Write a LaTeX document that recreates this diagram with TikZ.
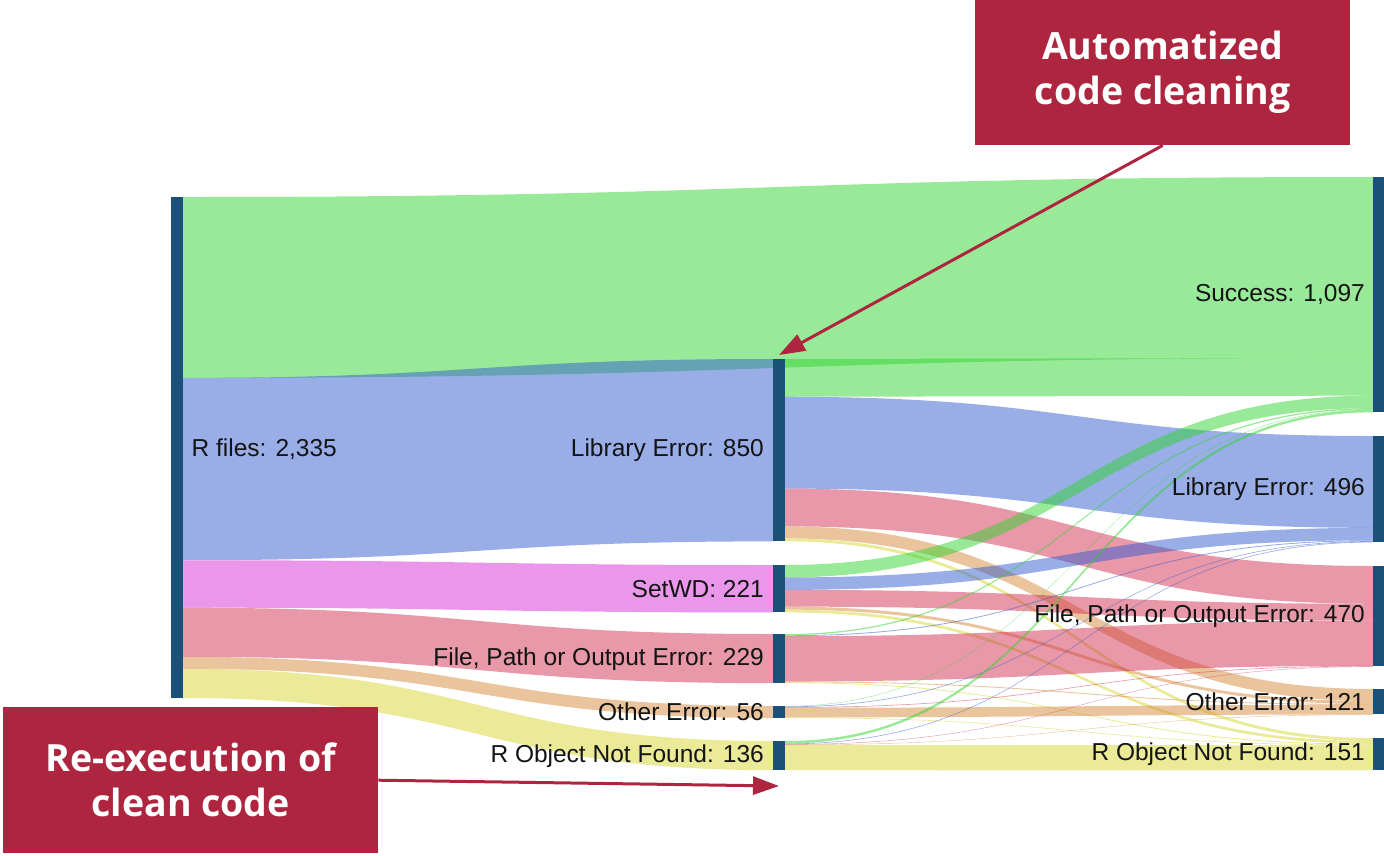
\documentclass[tikz,border=0pt]{standalone}
\usepackage{fontspec}
\setmainfont{Liberation Sans}
\newfontfamily\cof{Open Sans}
\usetikzlibrary{arrows.meta}
\definecolor{cgreen}{RGB}{49,213,49}
\definecolor{cblue}{RGB}{51,91,207}
\definecolor{cpink}{RGB}{213,45,213}
\definecolor{cred}{RGB}{209,49,81}
\definecolor{corange}{RGB}{213,137,57}
\definecolor{cyellow}{RGB}{213,213,49}
\definecolor{nodeblue}{RGB}{27,80,121}
\definecolor{crim}{RGB}{174,37,64}
\def\sc{0.214561}
\newcommand\lnk[8]{%
  \pgfmathsetmacro\lkya{#3+#4*\sc}%
  \pgfmathsetmacro\lkyb{#6+#7*\sc}%
  \pgfmathsetmacro\lktk{#8*\sc}%
  \pgfmathsetmacro\lkxm{(#2+#5)/2}%
  \fill[#1,fill opacity=0.5] (#2,\lkya) .. controls (\lkxm,\lkya) and (\lkxm,\lkyb) .. (#5,\lkyb)
    -- (#5,\lkyb+\lktk) .. controls (\lkxm,\lkyb+\lktk) and (\lkxm,\lkya+\lktk) .. (#2,\lkya+\lktk) -- cycle;
}
\tikzset{
  bar/.style={fill=nodeblue, draw=none, inner sep=0pt, minimum width=12pt, anchor=north west},
  lbl/.style={inner sep=0pt, text=black!92, font=\fontsize{24.5}{29}\selectfont},
  callout/.style={fill=crim, draw=none, text=white, align=center, anchor=north west,
    font=\cof\bfseries\fontsize{37.5}{45}\selectfont},
  carrow/.style={draw=crim, line width=3pt, -{Triangle[length=26pt,width=18pt]}}
}
\begin{document}
\begin{tikzpicture}[x=1pt,y=-1pt]
\useasboundingbox (0,0) rectangle (1384,855);
% flows from R files
\lnk{cgreen}{183}{197}{0}{1373}{177}{0}{843}
\lnk{cblue}{183}{197}{843}{773}{359}{0}{850}
\lnk{cpink}{183}{197}{1693}{773}{565}{0}{221}
\lnk{cred}{183}{197}{1914}{773}{634}{0}{229}
\lnk{corange}{183}{197}{2143}{773}{706}{0}{56}
\lnk{cyellow}{183}{197}{2199}{773}{741}{0}{136}
% Library Error
\lnk{cgreen}{785}{359}{0}{1373}{177}{843}{176}
\lnk{cblue}{785}{359}{176}{1373}{436}{0}{428}
\lnk{cred}{785}{359}{604}{1373}{566}{0}{176}
\lnk{corange}{785}{359}{780}{1373}{689}{0}{56}
\lnk{cyellow}{785}{359}{836}{1373}{738}{0}{14}
% SetWD
\lnk{cgreen}{785}{565}{0}{1373}{177}{1019}{58}
\lnk{cblue}{785}{565}{58}{1373}{436}{428}{58}
\lnk{cred}{785}{565}{116}{1373}{566}{176}{78}
\lnk{corange}{785}{565}{194}{1373}{689}{56}{14}
\lnk{cyellow}{785}{565}{208}{1373}{738}{14}{13}
% File, Path or Output Error
\lnk{cgreen}{785}{634}{0}{1373}{177}{1077}{6}
\lnk{cblue}{785}{634}{6}{1373}{436}{486}{4}
\lnk{cred}{785}{634}{10}{1373}{566}{254}{211}
\lnk{corange}{785}{634}{221}{1373}{689}{70}{4}
\lnk{cyellow}{785}{634}{225}{1373}{738}{27}{4}
% Other Error
\lnk{cgreen}{785}{706}{0}{1373}{177}{1083}{2}
\lnk{cblue}{785}{706}{2}{1373}{436}{490}{3}
\lnk{cred}{785}{706}{5}{1373}{566}{465}{3}
\lnk{corange}{785}{706}{8}{1373}{689}{74}{45}
\lnk{cyellow}{785}{706}{53}{1373}{738}{31}{3}
% R Object Not Found
\lnk{cgreen}{785}{741}{0}{1373}{177}{1085}{12}
\lnk{cblue}{785}{741}{12}{1373}{436}{493}{3}
\lnk{cred}{785}{741}{15}{1373}{566}{468}{2}
\lnk{corange}{785}{741}{17}{1373}{689}{119}{2}
\lnk{cyellow}{785}{741}{19}{1373}{738}{34}{117}
% node bars
\node[bar, minimum height=501pt] (rf) at (171,197) {};
\node[bar, minimum height=182pt] (mlib) at (773,359) {};
\node[bar, minimum height=47pt] (mset) at (773,565) {};
\node[bar, minimum height=49pt] (mfile) at (773,634) {};
\node[bar, minimum height=12pt] (moth) at (773,706) {};
\node[bar, minimum height=29pt] (mrob) at (773,741) {};
\node[bar, minimum height=235pt] (rsuc) at (1373,177) {};
\node[bar, minimum height=106pt] (rlib) at (1373,436) {};
\node[bar, minimum height=100pt] (rfile) at (1373,566) {};
\node[bar, minimum height=25pt] (roth) at (1373,689) {};
\node[bar, minimum height=32pt] (rrob) at (1373,738) {};
% labels
\node[lbl, anchor=west] at ([xshift=8pt,yshift=-1pt]rf.east) {R files: 2,335};
\node[lbl, anchor=east] at ([xshift=-9pt]mlib.west) {Library Error: 850};
\node[lbl, anchor=east] at ([xshift=-9pt]mset.west) {SetWD: 221};
\node[lbl, anchor=east] at ([xshift=-9pt]mfile.west) {File, Path or Output Error: 229};
\node[lbl, anchor=east] at ([xshift=-9pt]moth.west) {Other Error: 56};
\node[lbl, anchor=east] at ([xshift=-9pt]mrob.west) {R Object Not Found: 136};
\node[lbl, anchor=east] at ([xshift=-8pt]rsuc.west) {Success: 1,097};
\node[lbl, anchor=east] at ([xshift=-8pt]rlib.west) {Library Error: 496};
\node[lbl, anchor=east] at ([xshift=-8pt]rfile.west) {File, Path or Output Error: 470};
\node[lbl, anchor=east] at ([xshift=-8pt]roth.west) {Other Error: 121};
\node[lbl, anchor=east] at ([xshift=-8pt]rrob.west) {R Object Not Found: 151};
% callouts
\node[callout, minimum width=375pt, minimum height=145pt] (cb1) at (975,0) {Automatized\\code cleaning};
\node[callout, minimum width=375pt, minimum height=146pt] (cb2) at (3,707) {Re-execution of\\clean code};
\coordinate (t1) at (779,355);
\coordinate (t2) at (779,786);
\draw[carrow] (cb1.south) -- (t1);
\draw[carrow] (cb2.east) -- (t2);
\end{tikzpicture}
\end{document}
